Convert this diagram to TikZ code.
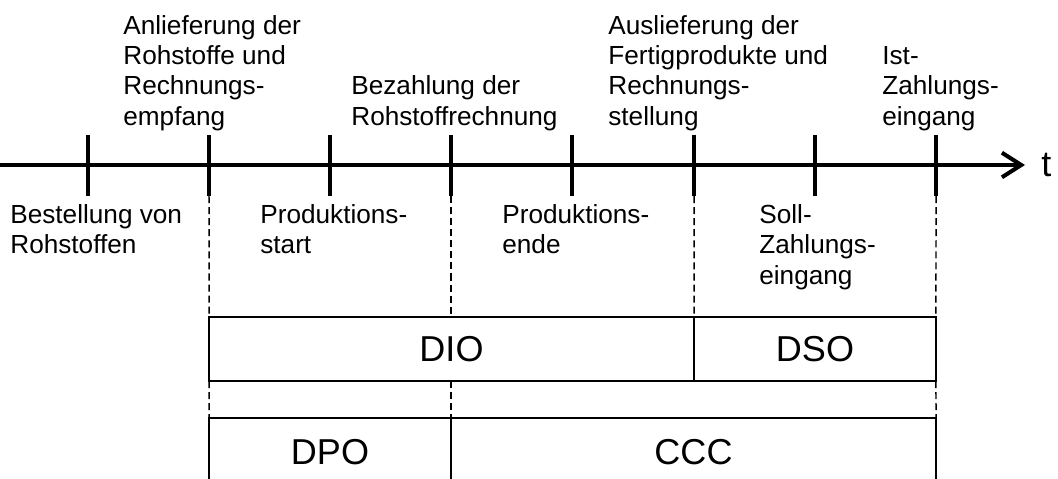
\documentclass[tikz,border=0pt]{standalone}
\usepackage{fontspec}
\setmainfont{Liberation Sans}
\usetikzlibrary{arrows.meta}
\tikzset{
  event/.style={inner sep=0pt, align=left, font=\fontsize{14.9}{17.3}\selectfont},
  span/.style={font=\fontsize{20.5}{24}\selectfont},
  spanbox/.style={span, draw, line width=1.13pt, outer sep=0pt, minimum height=1.28cm},
  guide/.style={dash pattern=on 4pt off 2.3pt, line width=0.85pt},
  frame/.style={line width=1.13pt},
  axis/.style={line width=2.3pt},
}
\begin{document}
\begin{tikzpicture}[x=0.02cm, y=-0.02cm]
  \useasboundingbox (0,0) rectangle (1058,479);
  \coordinate (start) at (0,165);
  \coordinate (end) at (1025,165);
  \draw [axis, -{Straight Barb[length=11pt,width=14pt]}] (start) -- (end);
  \node [span, inner sep=0pt, anchor=west] (t) at (1041,165) {t};
  \foreach \x [count=\i] in {88,209,330,451,572,694,815,936}
    \draw [axis] (\x,135) -- (\x,196) coordinate (tick\i);

  \node [event, anchor=south west] (deliv) at (123,131) {Anlieferung der\\Rohstoffe und\\Rechnungs-\\empfang};
  \node [event, anchor=south west] (pay) at (351,131) {Bezahlung der\\Rohstoffrechnung};
  \node [event, anchor=south west] (ship) at (608,131) {Auslieferung der\\Fertigprodukte und\\Rechnungs-\\stellung};
  \node [event, anchor=south west] (cashin) at (882,131) {Ist-\\Zahlungs-\\eingang};
  \node [event, anchor=north west] (order) at (10,204) {Bestellung von\\Rohstoffen};
  \node [event, anchor=north west] (prodstart) at (260,204) {Produktions-\\start};
  \node [event, anchor=north west] (prodend) at (502,204) {Produktions-\\ende};
  \node [event, anchor=north west] (due) at (759,204) {Soll-\\Zahlungs-\\eingang};

  \node [spanbox, minimum width=9.7cm] (dio) at (451.5,349) {DIO};
  \node [spanbox, minimum width=4.84cm] (dso) at (815,349) {DSO};
  \coordinate (low1) at (209,418);
  \coordinate (low2) at (451,418);
  \coordinate (low3) at (936,418);
  \draw [frame] (209,479) -- (low1) -- (low3) -- (936,479) (low2) -- (451,479);
  \node [span] (dpo) at (330,452) {DPO};
  \node [span] (ccc) at (693.5,452) {CCC};

  \draw [guide] (tick2) -- (dio.north west) (dio.south west) -- (low1);
  \draw [guide] (tick4) -- (tick4 |- dio.north) (tick4 |- dio.south) -- (low2);
  \draw [guide] (tick6) -- (dso.north west);
  \draw [guide] (tick8) -- (dso.north east) (dso.south east) -- (low3);
\end{tikzpicture}
\end{document}
